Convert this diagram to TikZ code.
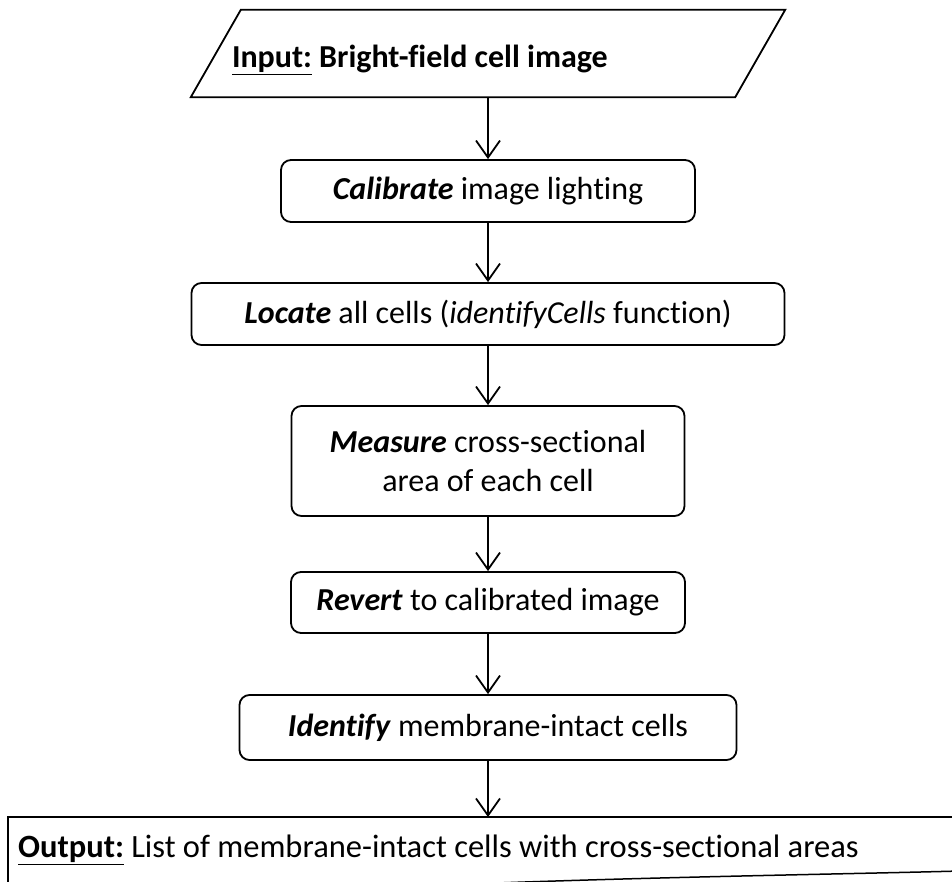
\documentclass[tikz,border=0pt]{standalone}
\usepackage{fontspec}
\setmainfont{Carlito}[Ligatures=NoCommon]
\usetikzlibrary{arrows.meta,calc}
\begin{document}
\begin{tikzpicture}[x=1pt,y=-1pt,
  edge/.style={line width=1.8pt},
  stepbox/.style={draw, edge, rounded corners=10pt, inner sep=0pt,
    align=center, font=\fontsize{32}{39}\selectfont},
  flow/.style={edge, -{Straight Barb[length=17pt,width=24pt,line width=1.8pt]}}]
\useasboundingbox (0,0) rectangle (952,882);
\clip (0,0) rectangle (952,882);

% input (parallelogram drawn around a text node; text sits a little low)
\node[inner ysep=0pt, inner xsep=16pt, minimum height=87pt,
      font=\fontsize{32}{39}\selectfont\bfseries]
  (in) at (488,53.5) {\hbox to 512pt{\raisebox{-14pt}[0pt][0pt]{\underline{Input:} Bright-field cell image}\hfil}};
\draw[edge] ($(in.south west)+(-25,0)$) -- ($(in.north west)+(25,0)$)
  -- ($(in.north east)+(25,0)$) -- ($(in.south east)+(-25,0)$) -- cycle;

% processing steps
\node[stepbox, minimum width=414pt, minimum height=62pt] (cal) at (488,191)
  {\textbf{\textit{Calibrate}} image lighting};
\node[stepbox, minimum width=593pt, minimum height=62pt] (loc) at (488,314)
  {\textbf{\textit{Locate}} all cells (\textit{identifyCells} function)};
\node[stepbox, minimum width=393pt, minimum height=110pt] (mea) at (488,461)
  {\textbf{\textit{Measure}} cross-sectional\\area of each cell};
\node[stepbox, minimum width=394pt, minimum height=61pt] (rev) at (488,602.5)
  {\textbf{\textit{Revert}} to calibrated image};
\node[stepbox, minimum width=497pt, minimum height=65pt] (idf) at (488,727.5)
  {\textbf{\textit{Identify}} membrane-intact cells};

% output (document shape, running off the page)
\node[anchor=north west, inner ysep=0pt, inner xsep=10pt,
      minimum height=66pt, font=\fontsize{32.5}{39}\selectfont]
  (out) at (8,817) {\hbox to 1080pt{\textbf{\underline{Output:}} List of membrane-intact cells with cross-sectional areas\hfil}};
\draw[edge] ($(out.south west)+(0,30)$) -- (out.north west) -- (out.north east);
\draw[line width=1.5pt] (470,884) .. controls (650,877) and (850,874) .. (960,871);

% connectors
\draw[flow] (in.south) -- (cal.north);
\draw[flow] (cal) -- (loc);
\draw[flow] (loc) -- (mea);
\draw[flow] (mea) -- (rev);
\draw[flow] (rev) -- (idf);
\draw[flow] (idf.south) -- (idf.south |- out.north);
\end{tikzpicture}
\end{document}
